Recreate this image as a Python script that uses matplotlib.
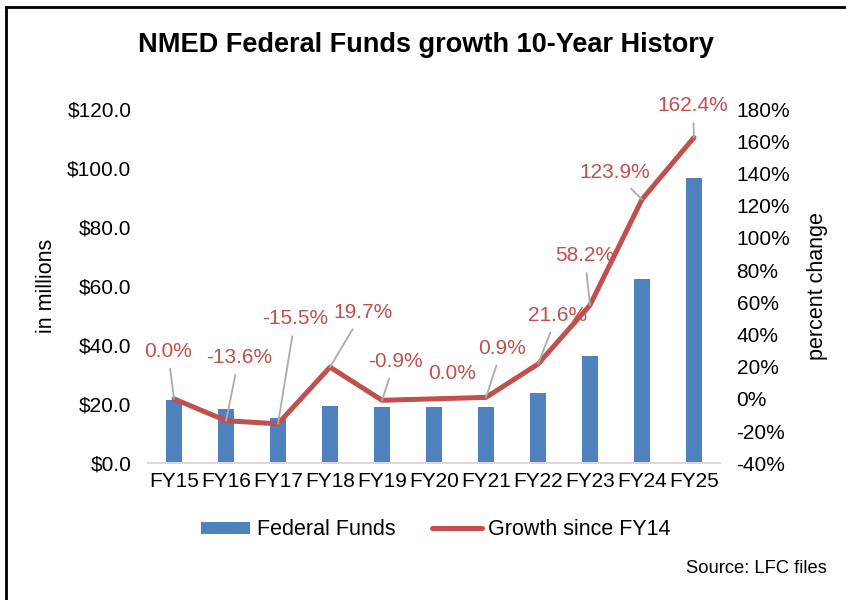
import matplotlib
matplotlib.use("Agg")
import matplotlib.pyplot as plt
from matplotlib.lines import Line2D
from matplotlib.patches import Patch

plt.rcParams['font.family'] = ['Liberation Sans', 'DejaVu Sans']

# data
years = ['FY15', 'FY16', 'FY17', 'FY18', 'FY19', 'FY20', 'FY21', 'FY22', 'FY23', 'FY24', 'FY25']
federal_funds = [21.4, 18.3, 15.3, 19.3, 19.2, 19.0, 19.1, 23.8, 36.3, 62.4, 96.7]
growth = [0.0, -13.6, -15.5, 19.7, -0.9, 0.0, 0.9, 21.6, 58.2, 123.9, 162.4]
growth_labels = ['0.0%', '-13.6%', '-15.5%', '19.7%', '-0.9%', '0.0%', '0.9%',
                 '21.6%', '58.2%', '123.9%', '162.4%']

# where each data label sits (category index, percent) and if it has a leader line
label_pos = [(-0.12, 29.6), (1.25, 25.9), (2.33, 50.0), (3.63, 53.8), (4.25, 23.4),
             (5.35, 15.9), (6.31, 31.5), (7.37, 52.0), (7.90, 89.2), (8.48, 140.7),
             (9.98, 182.4)]
leader = [True, True, True, True, True, False, True, True, True, True, True]

blue = '#4F81BD'
red = '#C0504D'
fs = 15

fig = plt.figure(figsize=(8.46, 6), dpi=100)
ax = fig.add_axes([0.175, 0.228, 0.676, 0.59])
ax2 = ax.twinx()

x = list(range(len(years)))
ax.bar(x, federal_funds, width=0.32, color=blue, zorder=2)
ax.set_xlim(-0.5, len(years) - 0.5)
ax.set_ylim(0, 120)
ax.set_yticks(range(0, 121, 20))
ax.set_yticklabels(['${:.1f}'.format(v) for v in range(0, 121, 20)])
ax.set_xticks(x)
ax.set_xticklabels(years)
ax.tick_params(axis='both', length=0, labelsize=fs)
ax.tick_params(axis='y', pad=12)
ax.tick_params(axis='x', pad=6)
ax.set_ylabel('in millions', fontsize=15.5, labelpad=7)

ax2.plot(x, growth, color=red, lw=3.6, solid_capstyle='round', zorder=3)
ax2.set_ylim(-40, 180)
ax2.set_yticks(range(-40, 181, 20))
ax2.set_yticklabels(['{}%'.format(v) for v in range(-40, 181, 20)])
ax2.tick_params(axis='y', length=0, labelsize=fs, pad=12)
ax2.set_ylabel('percent change', fontsize=15.5, labelpad=12)

for a in (ax, ax2):
    for s in a.spines.values():
        s.set_visible(False)
ax.spines['bottom'].set_visible(True)
ax.spines['bottom'].set_color('#D9D9D9')
ax.spines['bottom'].set_linewidth(1.5)

for i in x:
    tx, ty = label_pos[i]
    props = dict(arrowstyle='-', color='#ABABAB', lw=1.3, shrinkA=4, shrinkB=0) if leader[i] else None
    ax2.annotate(growth_labels[i], xy=(i, growth[i]), xytext=(tx, ty),
                 ha='center', va='center', fontsize=fs, color=red,
                 arrowprops=props, zorder=4)

fig.text(0.504, 0.925, 'NMED Federal Funds growth 10-Year History',
         ha='center', va='center', fontsize=19.5, fontweight='bold')

handles = [Patch(facecolor=blue, edgecolor='none'),
           Line2D([0], [0], color=red, lw=3.6, solid_capstyle='round')]
fig.legend(handles, ['Federal Funds', 'Growth since FY14'], loc='center',
           bbox_to_anchor=(0.515, 0.117), ncol=2, frameon=False, fontsize=15.5,
           handlelength=2.3, handleheight=0.5, handletextpad=0.3, columnspacing=1.7)

fig.text(0.977, 0.053, 'Source: LFC files', ha='right', va='center', fontsize=13.2)

# frame lines on the left and top edge
fig.add_artist(Line2D([0.007, 0.007], [0, 0.988], transform=fig.transFigure, color='black', lw=2))
fig.add_artist(Line2D([0.007, 1], [0.988, 0.988], transform=fig.transFigure, color='black', lw=2))

fig.savefig('out.png', dpi=100)
